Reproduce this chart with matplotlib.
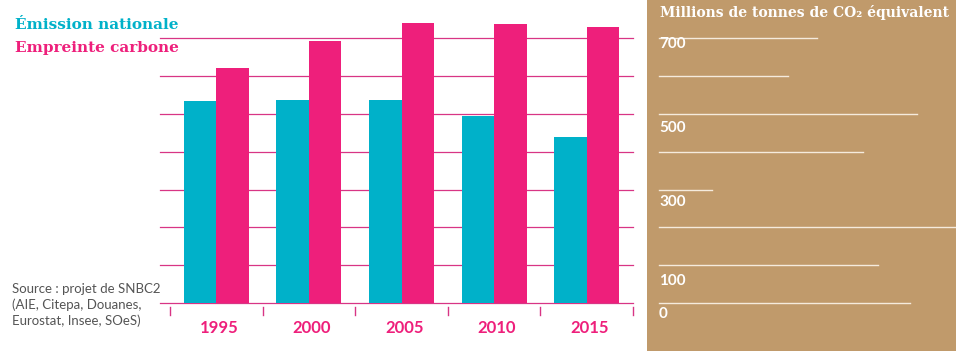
import numpy as np
import matplotlib.pyplot as plt

# Millions de tonnes de CO2 équivalent
years = ["1995", "2000", "2005", "2010", "2015"]
emission_nationale = [534, 537, 538, 496, 439]
empreinte_carbone = [623, 692, 741, 739, 730]
grid_values = [0, 100, 200, 300, 400, 500, 600, 700]
label_values = [700, 500, 300, 100, 0]
# right-hand panel rules (for 0..700), end point as fraction of panel width
panel_rule_ends = [0.845, 0.737, 1.0, 0.18, 0.687, 0.869, 0.434, 0.532]
# how far (px) each panel label sits below its rule
label_drop = [5, 13, 12, 15, 11]

TEAL = "#00B1C9"
PINK = "#EE1F7B"
GRID = "#D83585"
BROWN = "#C09A6B"
SERIF = ["DejaVu Serif"]

W, H = 956, 351
fig = plt.figure(figsize=(W / 100, H / 100), dpi=100)
px = 801.6 / 303  # value units per pixel

# brown side panel
panel = fig.add_axes([647 / W, 0, 1 - 647 / W, 1])
panel.set_facecolor(BROWN)
panel.set_xticks([])
panel.set_yticks([])
for s in panel.spines.values():
    s.set_visible(False)

# main bar chart
ax = fig.add_axes([160 / W, 48 / H, (633 - 160) / W, 303 / H])
ax.set_xlim(-0.608, 4.5)
ax.set_ylim(0, 801.6)
ax.axis("off")

x = np.arange(len(years))
bw = 0.35
for v in grid_values:
    ax.axhline(v, color=GRID, lw=0.9, zorder=1, clip_on=False)
ax.bar(x - bw / 2, emission_nationale, bw, color=TEAL, zorder=2)
ax.bar(x + bw / 2, empreinte_carbone, bw, color=PINK, zorder=2)

for b in np.arange(-0.5, 5, 1):
    ax.plot([b, b], [-4 * px, -12 * px], color=GRID, lw=1, clip_on=False)
for i, yr in enumerate(years):
    ax.text(i + 0.03, -25 * px, yr, ha="center", va="center", color=PINK,
            fontsize=12, fontweight="bold", family="Lato")

# panel content, same vertical scale as the bars
pax = fig.add_axes([659 / W, 48 / H, 1 - 659 / W, 303 / H])
pax.set_xlim(0, 1)
pax.set_ylim(0, 801.6)
pax.axis("off")
for v, end in zip(grid_values, panel_rule_ends):
    pax.plot([0, end], [v, v], color="#F5EBDD", lw=1, clip_on=False)
for v, d in zip(label_values, label_drop):
    pax.text(0.0, v - (d + 0.5) * px, str(v), ha="left", va="center",
             color="white", fontsize=11, fontweight="bold", family="Lato")

fig.text(660 / W, 1 - 12 / H, "Millions de tonnes de CO₂ équivalent",
         ha="left", va="center", color="white", fontsize=10,
         fontweight="bold", family=SERIF)

fig.text(15 / W, 1 - 25 / H, "Émission nationale", ha="left", va="center",
         color=TEAL, fontsize=11, fontweight="bold", family=SERIF)
fig.text(15 / W, 1 - 48 / H, "Empreinte carbone", ha="left", va="center",
         color=PINK, fontsize=11, fontweight="bold", family=SERIF)

fig.text(12 / W, 1 - 305 / H,
         "Source : projet de SNBC2\n(AIE, Citepa, Douanes,\nEurostat, Insee, SOeS)",
         ha="left", va="center", color="#555555", fontsize=9.5,
         linespacing=1.3, family="Lato")

fig.savefig("out.png", dpi=100, facecolor="white")
